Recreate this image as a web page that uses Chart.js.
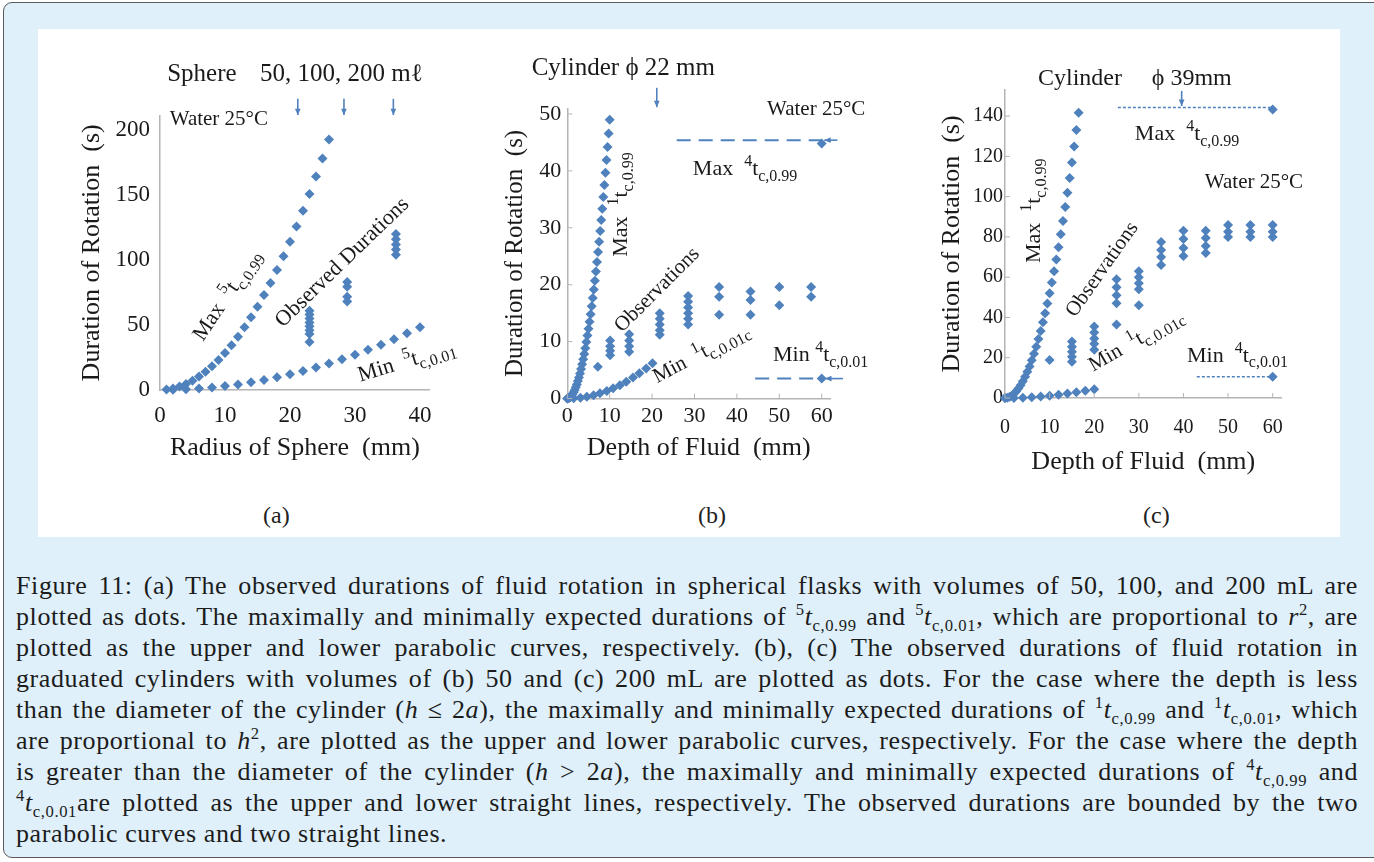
<!DOCTYPE html>
<html>
<head>
<meta charset="utf-8">
<script src="https://cdn.jsdelivr.net/npm/chart.js@4.4.1/dist/chart.umd.min.js"></script>
<style>
  html, body { margin: 0; padding: 0; background: #fff; overflow: hidden; }
  #box { position: absolute; left: 3px; top: 2px; width: 1382px; height: 856px;
         border: 1.5px solid #5a5a5a; border-radius: 9px; background: #dff0fa; box-sizing: border-box; }
  #white { position: absolute; left: 38px; top: 29px; width: 1302px; height: 508px; background: #fff; }
  canvas { position: absolute; }
  .tag { position: absolute; top: 502px; font: 24px "Liberation Serif", serif; color: #222; }
  #caption { position: absolute; left: 16px; top: 570px; width: 1342px; letter-spacing: 0.6px;
             font: 26px/31px "Liberation Serif", serif; color: #1c1c1c; }
  #caption div { text-align: justify; text-align-last: justify; }
  #caption div.last { text-align-last: left; }
  sup, sub { font-size: 0.64em; line-height: 0; }
</style>
</head>
<body>
<div id="box"></div>
<div id="white"></div>
<canvas id="chartA" width="440" height="440" style="left:50px;top:40px"></canvas>
<canvas id="chartB" width="410" height="440" style="left:490px;top:40px"></canvas>
<canvas id="chartC" width="400" height="460" style="left:925px;top:40px"></canvas>
<div class="tag" style="left:263px">(a)</div>
<div class="tag" style="left:698px">(b)</div>
<div class="tag" style="left:1143px">(c)</div>
<div id="caption">
<div>Figure 11: (a) The observed durations of fluid rotation in spherical flasks with volumes of 50, 100, and 200 mL are</div>
<div>plotted as dots. The maximally and minimally expected durations of <sup>5</sup><i>t</i><sub>c,0.99</sub> and <sup>5</sup><i>t</i><sub>c,0.01</sub>, which are proportional to <i>r</i><sup>2</sup>, are</div>
<div>plotted as the upper and lower parabolic curves, respectively. (b), (c) The observed durations of fluid rotation in</div>
<div>graduated cylinders with volumes of (b) 50 and (c) 200 mL are plotted as dots. For the case where the depth is less</div>
<div>than the diameter of the cylinder (<i>h</i> ≤ 2<i>a</i>), the maximally and minimally expected durations of <sup>1</sup><i>t</i><sub>c,0.99</sub> and <sup>1</sup><i>t</i><sub>c,0.01</sub>, which</div>
<div>are proportional to <i>h</i><sup>2</sup>, are plotted as the upper and lower parabolic curves, respectively. For the case where the depth</div>
<div>is greater than the diameter of the cylinder (<i>h</i> &gt; 2<i>a</i>), the maximally and minimally expected durations of <sup>4</sup><i>t</i><sub>c,0.99</sub> and</div>
<div><sup>4</sup><i>t</i><sub>c,0.01</sub>are plotted as the upper and lower straight lines, respectively. The observed durations are bounded by the two</div>
<div class="last">parabolic curves and two straight lines.</div>
</div>

<script>
const BLUE = '#4f81bd';
const AXIS = '#b4b4b4';
const INK = '#1a1a1a';
const SERIF = '"Liberation Serif", serif';

// (a) sphere, radius (mm) vs duration (s)
const aTicksX = [0, 10, 20, 30, 40];
const aTicksY = [0, 50, 100, 150, 200];
const aMaxR = [1, 2, 3, 4, 5, 6, 7, 8, 9, 10, 11, 12, 13, 14, 15, 16, 17, 18, 19, 20, 21, 22, 23, 24, 25, 26];
const aMaxT = [0.3, 1.1, 2.6, 4.6, 7.1, 10.3, 14, 18.2, 23.1, 28.5, 34.5, 41, 48.2, 55.9, 64.1, 73, 82.4, 92.3, 102.9, 114, 125.7, 137.9, 150.8, 164.2, 178.1, 192.7];
const aMinR = [2, 4, 6, 8, 10, 12, 14, 16, 18, 20, 22, 24, 26, 28, 30, 32, 34, 36, 38, 40];
const aMinT = [0.1, 0.5, 1.1, 1.9, 3, 4.3, 5.9, 7.7, 9.8, 12.1, 14.6, 17.4, 20.4, 23.7, 27.2, 30.9, 34.9, 39.1, 43.6, 48.3];
const aObsR = [23, 23, 23, 23, 23, 23, 23, 23, 28.8, 28.8, 28.8, 28.8, 36.3, 36.3, 36.3, 36.3, 36.3];
const aObsT = [61, 58, 55, 52, 49, 46, 43, 37, 83, 79.5, 71.8, 68, 120, 116, 112, 108, 104];
const aVolR = [21.2, 28.3, 35.9];   // 50, 100, 200 ml arrows

// (b) cylinder 22 mm, depth (mm) vs duration (s)
const bTicksX = [0, 10, 20, 30, 40, 50, 60];
const bTicksY = [0, 10, 20, 30, 40, 50];
const bMaxH = [0, 0.25, 0.5, 0.75, 1, 1.25, 1.5, 1.75, 2, 2.25, 2.5, 2.75, 3, 3.25, 3.5, 3.75, 4, 4.25, 4.5, 4.75, 5, 5.25, 5.5, 5.75, 6, 6.25, 6.5, 6.75, 7, 7.25, 7.5, 7.75, 8, 8.25, 8.5, 8.75, 9, 9.25, 9.5, 9.75, 10];
const bMaxT = [0, 0.03, 0.12, 0.28, 0.49, 0.77, 1.1, 1.5, 1.96, 2.48, 3.06, 3.71, 4.41, 5.18, 6, 6.89, 7.84, 8.85, 9.92, 11.06, 12.25, 13.51, 14.82, 16.2, 17.64, 19.14, 20.7, 22.33, 24.01, 25.76, 27.56, 29.43, 31.36, 33.35, 35.4, 37.52, 39.69, 41.93, 44.22, 46.58, 49];
const bMinH = [0, 1.5, 3.1, 4.6, 6.2, 7.7, 9.3, 10.8, 12.4, 13.9, 15.5, 17, 18.6, 20.1];
const bMinT = [0, 0.03, 0.15, 0.32, 0.59, 0.91, 1.32, 1.78, 2.35, 2.96, 3.68, 4.42, 5.29, 6.18];
const bObsH = [7.2, 10.1, 10.1, 10.1, 10.1, 14.6, 14.6, 14.6, 14.6, 21.8, 21.8, 21.8, 21.8, 21.8,
               28.5, 28.5, 28.5, 28.5, 28.5, 28.5, 35.8, 35.8, 35.8, 43.2, 43.2, 43.2, 50, 50, 57.5, 57.5];
const bObsT = [5.6, 10.2, 9.2, 8.4, 7.6, 11.3, 10.2, 9.2, 8.2, 15, 14, 13, 12, 11.2,
               18, 17, 16, 15, 14, 13, 19.6, 17.9, 14.7, 18.8, 17.3, 14.7, 19.6, 16.4, 19.6, 17.9];
const bLineMaxH = [25.8, 60], bLineMaxT = [45.4, 45.4];
const bLineMinH = [44.3, 60], bLineMinT = [3.5, 3.5];
const bEndH = [60, 60], bEndT = [44.8, 3.5];

// (c) cylinder 39 mm
const cTicksX = [0, 10, 20, 30, 40, 50, 60];
const cTicksY = [0, 20, 40, 60, 80, 100, 120, 140];
const cMaxH = [0, 0.5, 1, 1.5, 2, 2.5, 3, 3.5, 4, 4.5, 5, 5.5, 6, 6.5, 7, 7.5, 8, 8.5, 9, 9.5, 10, 10.5, 11, 11.5, 12, 12.5, 13, 13.5, 14, 14.5, 15, 15.5, 16, 16.5];
const cMaxT = [0, 0.13, 0.52, 1.17, 2.08, 3.25, 4.68, 6.37, 8.32, 10.5, 13, 15.7, 18.7, 22, 25.5, 29.3, 33.3, 37.6, 42.1, 46.9, 52, 57.3, 62.9, 68.8, 74.9, 81.3, 87.9, 94.8, 101.9, 109.3, 117, 124.9, 133.1, 141.6];
const cMinH = [0, 2, 4, 6, 8, 10, 12, 14, 16, 18, 20];
const cMinT = [0, 0.04, 0.18, 0.4, 0.7, 1.1, 1.6, 2.2, 2.8, 3.6, 4.4];
const cObsH = [10, 15, 15, 15, 15, 15, 20, 20, 20, 20, 20, 25, 25, 25, 25, 25, 30, 30, 30, 30, 30,
               35, 35, 35, 35, 40, 40, 40, 40, 45, 45, 45, 45, 50, 50, 50, 55, 55, 55, 60, 60, 60];
const cObsT = [18.9, 28, 25.5, 23, 20.5, 18, 35.5, 32.5, 29.5, 27, 24, 59, 55, 51, 47, 36.5, 63, 60, 57, 54, 46,
               77.5, 73.5, 70, 66, 83, 79, 74.5, 70.5, 83, 79.5, 75.5, 72, 85.9, 82.6, 80, 85.9, 82.6, 80, 85.9, 82.6, 80];
const cLineMaxH = [25.3, 60], cLineMaxT = [144.3, 144.3];
const cLineMinH = [43, 60], cLineMinT = [10.6, 10.6];
const cEndH = [60, 60], cEndT = [143.3, 10.6];

function pts(xs, ys) { return xs.map((x, i) => ({ x, y: ys[i] })); }

function dots(xs, ys) {
  return { data: pts(xs, ys), pointStyle: 'rectRot', pointRadius: 5, pointBackgroundColor: BLUE,
           pointBorderWidth: 0, showLine: false, clip: false };
}

function dashed(xs, ys, dash, w) {
  return { type: 'line', data: pts(xs, ys), borderColor: BLUE, borderWidth: w, borderDash: dash,
           pointRadius: 0, showLine: true, fill: false, clip: false };
}

function rich(ctx, x, y, angle, parts, size) {
  ctx.save();
  ctx.translate(x, y);
  ctx.rotate(angle * Math.PI / 180);
  ctx.textAlign = 'left';
  ctx.textBaseline = 'alphabetic';
  let cx = 0;
  parts.forEach(([t, k]) => {
    const s = k ? Math.round(size * 0.74) : size;
    const dy = k === 'sup' ? -size * 0.4 : (k === 'sub' ? size * 0.26 : 0);
    ctx.font = s + 'px ' + SERIF;
    ctx.fillText(t, cx, dy);
    cx += ctx.measureText(t).width;
  });
  ctx.restore();
}

function arrow(ctx, x1, y1, x2, y2) {
  const ang = Math.atan2(y2 - y1, x2 - x1), h = 7;
  ctx.beginPath(); ctx.moveTo(x1, y1); ctx.lineTo(x2, y2); ctx.stroke();
  ctx.beginPath();
  ctx.moveTo(x2, y2);
  ctx.lineTo(x2 - h * Math.cos(ang - 0.42), y2 - h * Math.sin(ang - 0.42));
  ctx.lineTo(x2 - h * Math.cos(ang + 0.42), y2 - h * Math.sin(ang + 0.42));
  ctx.closePath();
  ctx.fill();
}

// labels, arrows and inner tick marks, placed in data units
function notes(spec) {
  return {
    id: 'notes',
    afterDraw(chart) {
      const ctx = chart.ctx, xs = chart.scales.x, ys = chart.scales.y, a = chart.chartArea;
      const px = v => xs.getPixelForValue(v), py = v => ys.getPixelForValue(v);
      ctx.save();
      if (spec.innerTicks) {
        ctx.strokeStyle = AXIS; ctx.lineWidth = 1;
        ctx.beginPath();
        xs.ticks.forEach(t => { const x = px(t.value); ctx.moveTo(x, a.bottom); ctx.lineTo(x, a.bottom - 5); });
        ys.ticks.forEach(t => { const y = py(t.value); ctx.moveTo(a.left, y); ctx.lineTo(a.left + 5, y); });
        ctx.stroke();
      }
      ctx.strokeStyle = BLUE; ctx.fillStyle = BLUE; ctx.lineWidth = 1.6;
      spec.arrows.forEach(r => arrow(ctx, px(r.x1), py(r.y1), px(r.x2), py(r.y2)));
      ctx.fillStyle = INK;
      spec.texts.forEach(t => rich(ctx, px(t.x), py(t.y), t.angle || 0, t.parts, t.size));
      ctx.restore();
    }
  };
}

function axes(p) {
  return {
    x: {
      type: 'linear', min: p.xMin, max: p.xMax,
      afterBuildTicks: s => { s.ticks = p.xTicks.map(v => ({ value: v })); },
      afterFit: s => { s.height = p.hx; },
      grid: { display: false, drawTicks: false },
      border: { display: true, color: AXIS, width: 1.5 },
      ticks: { padding: p.xPad, color: INK, autoSkip: false, maxRotation: 0, font: { family: SERIF, size: p.tick } },
      title: { display: true, text: p.xTitle, color: INK, font: { family: SERIF, size: 26 }, padding: { top: 0, bottom: p.xTitlePad } }
    },
    y: {
      type: 'linear', min: 0, max: p.yMax,
      afterBuildTicks: s => { s.ticks = p.yTicks.map(v => ({ value: v })); },
      afterFit: s => { s.width = p.wy; },
      grid: { display: false, drawTicks: false },
      border: { display: true, color: AXIS, width: 1.5 },
      ticks: { padding: p.yPad, color: INK, autoSkip: false, font: { family: SERIF, size: p.tick } },
      title: { display: true, text: 'Duration of Rotation  (s)', color: INK, font: { family: SERIF, size: p.yTitleSize }, padding: { top: p.yTitlePad, bottom: 0 } }
    }
  };
}

function makeChart(id, datasets, p, spec) {
  return new Chart(document.getElementById(id), {
    type: 'scatter',
    data: { datasets },
    options: {
      responsive: false, animation: false, events: [],
      layout: { padding: p.pad },
      plugins: { legend: { display: false }, tooltip: { enabled: false } },
      scales: axes(p)
    },
    plugins: [notes(spec)]
  });
}

makeChart('chartA', [
  dots(aMaxR, aMaxT), dots(aMinR, aMinT), dots(aObsR, aObsT)
], {
  xMin: 0, xMax: 41.5, yMax: 211, xTicks: aTicksX, yTicks: aTicksY, tick: 23,
  pad: { left: 20, right: 60.25, top: 75.7, bottom: 10 }, wy: 90, hx: 80,
  xPad: 12, yPad: 10, xTitle: 'Radius of Sphere  (mm)', xTitlePad: 6.4, yTitleSize: 26, yTitlePad: 6.1
}, {
  arrows: aVolR.map(r => ({ x1: r, y1: 224, x2: r, y2: 211.5 })),
  texts: [
    { x: 1.1, y: 237.7, size: 25, parts: [['Sphere']] },
    { x: 15.4, y: 237.7, size: 25, parts: [['50, 100, 200 mℓ']] },
    { x: 1.5, y: 203.8, size: 21, parts: [['Water 25°C']] },
    { x: 6.6, y: 36.9, size: 22, angle: -56, parts: [['Max  '], ['5', 'sup'], ['t'], ['c,0.99', 'sub']] },
    { x: 18.9, y: 47.7, size: 22, angle: -44, parts: [['Observed Durations']] },
    { x: 30.8, y: 6.4, size: 22, angle: -17, parts: [['Min  '], ['5', 'sup'], ['t'], ['c,0.01', 'sub']] }
  ]
});

makeChart('chartB', [
  dots(bMaxH, bMaxT), dots(bMinH, bMinT), dots(bObsH, bObsT),
  dashed(bLineMaxH, bLineMaxT, [14, 8], 2), dashed(bLineMinH, bLineMinT, [14, 8], 2),
  dots(bEndH, bEndT)
], {
  xMin: 0, xMax: 62, yMax: 51, xTicks: bTicksX, yTicks: bTicksY, tick: 22,
  pad: { left: 4, right: 69.8, top: 68.3, bottom: 10 }, wy: 73.3, hx: 71.5,
  xPad: 5, yPad: 6, xTitle: 'Depth of Fluid  (mm)', xTitlePad: 6.4, yTitleSize: 25, yTitlePad: 6
}, {
  innerTicks: true,
  arrows: [
    { x1: 21.1, y1: 54.6, x2: 21.1, y2: 51.2 },
    { x1: 63.7, y1: 45.4, x2: 60.6, y2: 45.4 },
    { x1: 65, y1: 3.5, x2: 60.8, y2: 3.5 }
  ],
  texts: [
    { x: -8.4, y: 56.9, size: 25, parts: [['Cylinder ϕ 22 mm']] },
    { x: 47.1, y: 49.8, size: 21, parts: [['Water 25°C']] },
    { x: 29.6, y: 39.3, size: 22, parts: [['Max  '], ['4', 'sup'], ['t'], ['c,0.99', 'sub']] },
    { x: 14.1, y: 24.9, size: 22, angle: -90, parts: [['Max  '], ['1', 'sup'], ['t'], ['c,0.99', 'sub']] },
    { x: 12.9, y: 11.5, size: 21, angle: -45, parts: [['Observations']] },
    { x: 21.2, y: 2.7, size: 21, angle: -28, parts: [['Min  '], ['1', 'sup'], ['t'], ['c,0.01c', 'sub']] },
    { x: 48.5, y: 6.6, size: 22, parts: [['Min '], ['4', 'sup'], ['t'], ['c,0.01', 'sub']] }
  ]
});

makeChart('chartC', [
  dots(cMaxH, cMaxT), dots(cMinH, cMinT), dots(cObsH, cObsT),
  dashed(cLineMaxH, cLineMaxT, [3, 2], 1.5), dashed(cLineMinH, cLineMinT, [3, 2], 1.5),
  dots(cEndH, cEndT)
], {
  xMin: 0, xMax: 62, yMax: 153, xTicks: cTicksX, yTicks: cTicksY, tick: 20,
  pad: { left: 4, right: 43.4, top: 49.9, bottom: 10 }, wy: 76, hx: 92,
  xPad: 18, yPad: 2, xTitle: 'Depth of Fluid  (mm)', xTitlePad: 12.4, yTitleSize: 26, yTitlePad: 7.1
}, {
  innerTicks: true,
  arrows: [{ x1: 39.6, y1: 152.5, x2: 39.6, y2: 145 }],
  texts: [
    { x: 7.4, y: 155.4, size: 24, parts: [['Cylinder']] },
    { x: 32.9, y: 155.4, size: 24, parts: [['ϕ 39mm']] },
    { x: 29.1, y: 128.1, size: 22, parts: [['Max  '], ['4', 'sup'], ['t'], ['c,0.99', 'sub']] },
    { x: 44.8, y: 104.1, size: 21, parts: [['Water 25°C']] },
    { x: 7.8, y: 67, size: 22, angle: -90, parts: [['Max  '], ['1', 'sup'], ['t'], ['c,0.99', 'sub']] },
    { x: 15.7, y: 39.7, size: 21, angle: -55, parts: [['Observations']] },
    { x: 19.8, y: 13, size: 21, angle: -30, parts: [['Min  '], ['1', 'sup'], ['t'], ['c,0.01c', 'sub']] },
    { x: 40.8, y: 18, size: 22, parts: [['Min  '], ['4', 'sup'], ['t'], ['c,0.01', 'sub']] }
  ]
});
</script>
</body>
</html>
